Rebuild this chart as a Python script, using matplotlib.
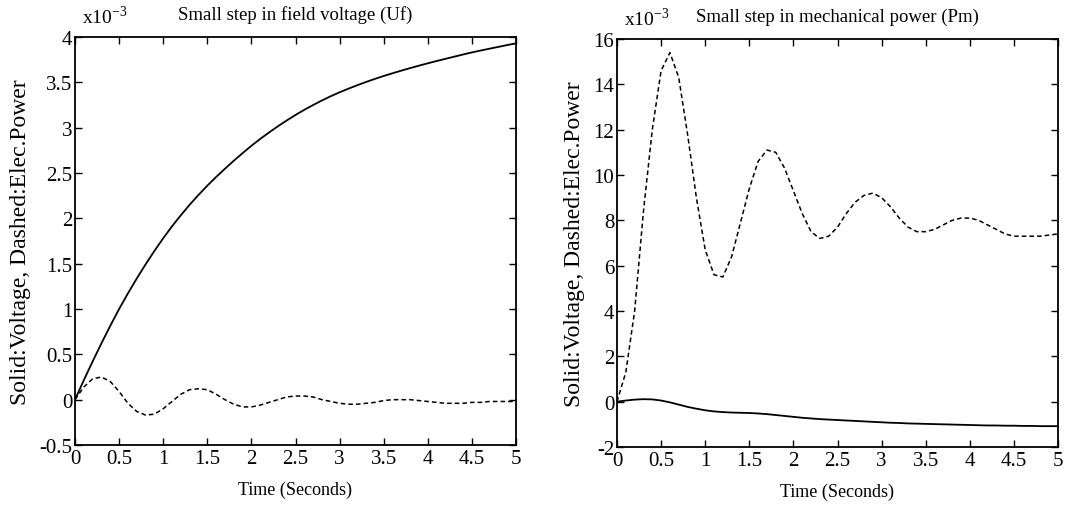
import matplotlib
matplotlib.use("Agg")
import matplotlib.pyplot as plt
import numpy as np

plt.rcParams['font.family'] = ['Liberation Serif', 'DejaVu Serif']

# time samples (seconds)
t = [0.0, 0.1, 0.2, 0.3, 0.4, 0.5, 0.6, 0.7, 0.8, 0.9, 1.0,
     1.1, 1.2, 1.3, 1.4, 1.5, 1.6, 1.7, 1.8, 1.9, 2.0,
     2.1, 2.2, 2.3, 2.4, 2.5, 2.6, 2.7, 2.8, 2.9, 3.0,
     3.1, 3.2, 3.3, 3.4, 3.5, 3.6, 3.7, 3.8, 3.9, 4.0,
     4.1, 4.2, 4.3, 4.4, 4.5, 4.6, 4.7, 4.8, 4.9, 5.0]

# Left panel: small step in field voltage (x1e-3)
uf_voltage = [0.000, 0.215, 0.422, 0.622, 0.815, 1.000, 1.172, 1.336, 1.492, 1.640, 1.780,
              1.912, 2.034, 2.150, 2.258, 2.360, 2.456, 2.547, 2.635, 2.719, 2.800,
              2.876, 2.947, 3.015, 3.079, 3.140, 3.197, 3.250, 3.300, 3.347, 3.390,
              3.430, 3.468, 3.504, 3.538, 3.570, 3.600, 3.629, 3.657, 3.684, 3.710,
              3.735, 3.759, 3.783, 3.807, 3.830, 3.851, 3.871, 3.891, 3.911, 3.930]
uf_power = [0.00, 0.14, 0.23, 0.25, 0.20, 0.09, -0.04, -0.13, -0.17, -0.16, -0.10,
            -0.02, 0.06, 0.11, 0.12, 0.11, 0.06, 0.00, -0.05, -0.08, -0.08,
            -0.06, -0.03, 0.00, 0.03, 0.04, 0.04, 0.03, 0.00, -0.02, -0.04,
            -0.05, -0.05, -0.04, -0.03, -0.01, 0.00, 0.00, 0.00, -0.01, -0.02,
            -0.03, -0.04, -0.04, -0.04, -0.03, -0.03, -0.02, -0.02, -0.02, -0.02]

# Right panel: small step in mechanical power (x1e-3)
pm_voltage = [0.00, 0.05, 0.09, 0.11, 0.10, 0.05, -0.03, -0.13, -0.23, -0.31, -0.38,
              -0.43, -0.46, -0.48, -0.49, -0.50, -0.52, -0.55, -0.59, -0.63, -0.67,
              -0.71, -0.74, -0.77, -0.79, -0.81, -0.83, -0.85, -0.87, -0.89, -0.91,
              -0.93, -0.94, -0.96, -0.97, -0.98, -0.99, -1.00, -1.01, -1.02, -1.03,
              -1.04, -1.05, -1.05, -1.06, -1.06, -1.07, -1.07, -1.08, -1.08, -1.08]
pm_power = [0.00, 1.3, 4.0, 8.4, 12.0, 14.6, 15.4, 14.3, 11.8, 9.0, 6.7,
            5.6, 5.5, 6.4, 7.9, 9.4, 10.6, 11.1, 11.0, 10.3, 9.3,
            8.3, 7.5, 7.2, 7.3, 7.7, 8.3, 8.8, 9.1, 9.2, 9.0,
            8.6, 8.1, 7.7, 7.5, 7.5, 7.6, 7.8, 8.0, 8.1, 8.1,
            8.0, 7.8, 7.6, 7.4, 7.3, 7.3, 7.3, 7.3, 7.35, 7.4]

left_yticks = [-0.5, 0, 0.5, 1, 1.5, 2, 2.5, 3, 3.5, 4]
left_yticklabels = ['-0.5', '0', '0.5', '1', '1.5', '2', '2.5', '3', '3.5', '4']
right_yticks = [-2, 0, 2, 4, 6, 8, 10, 12, 14, 16]
right_yticklabels = ['-2', '0', '2', '4', '6', '8', '10', '12', '14', '16']
xticks = [0, 0.5, 1, 1.5, 2, 2.5, 3, 3.5, 4, 4.5, 5]
xticklabels = ['0', '0.5', '1', '1.5', '2', '2.5', '3', '3.5', '4', '4.5', '5']

W, H = 1069, 510
fig = plt.figure(figsize=(W / 100, H / 100), dpi=100)

def make_ax(x0, y0, x1, y1):
    return fig.add_axes([x0 / W, 1 - y1 / H, (x1 - x0) / W, (y1 - y0) / H])

axL = make_ax(75, 38, 516, 446)
axR = make_ax(617, 40, 1058, 448)

panels = [
    (axL, uf_voltage, uf_power, (-0.5, 4), left_yticks, left_yticklabels,
     'Small step in field voltage (Uf)'),
    (axR, pm_voltage, pm_power, (-2, 16), right_yticks, right_yticklabels,
     'Small step in mechanical power (Pm)'),
]

for ax, sv, sp, ylim, yt, ytl, title in panels:
    ax.plot(t, sv, color='black', lw=1.3, ls='-')
    ax.plot(t, sp, color='black', lw=1.1, ls=(0, (3, 2)))
    ax.set_xlim(0, 5)
    ax.set_ylim(*ylim)
    ax.set_xticks(xticks)
    ax.set_xticklabels(xticklabels)
    ax.set_yticks(yt)
    ax.set_yticklabels(ytl)
    ax.tick_params(direction='in', top=True, right=True, length=5, width=1,
                   labelsize=15)
    ax.tick_params(axis='x', pad=3)
    ax.tick_params(axis='y', pad=2)
    for s in ax.spines.values():
        s.set_linewidth(1.3)
    ax.set_xlabel('Time (Seconds)', fontsize=13, labelpad=9)
    ax.set_ylabel('Solid:Voltage, Dashed:Elec.Power', fontsize=17, labelpad=6)
    ax.set_title(title, fontsize=13.5, pad=13)
    ax.text(0.015, 1.025, r'x10$^{\mathregular{-3}}$', transform=ax.transAxes,
            fontsize=14, ha='left', va='bottom')

fig.savefig('out.png', dpi=100)
